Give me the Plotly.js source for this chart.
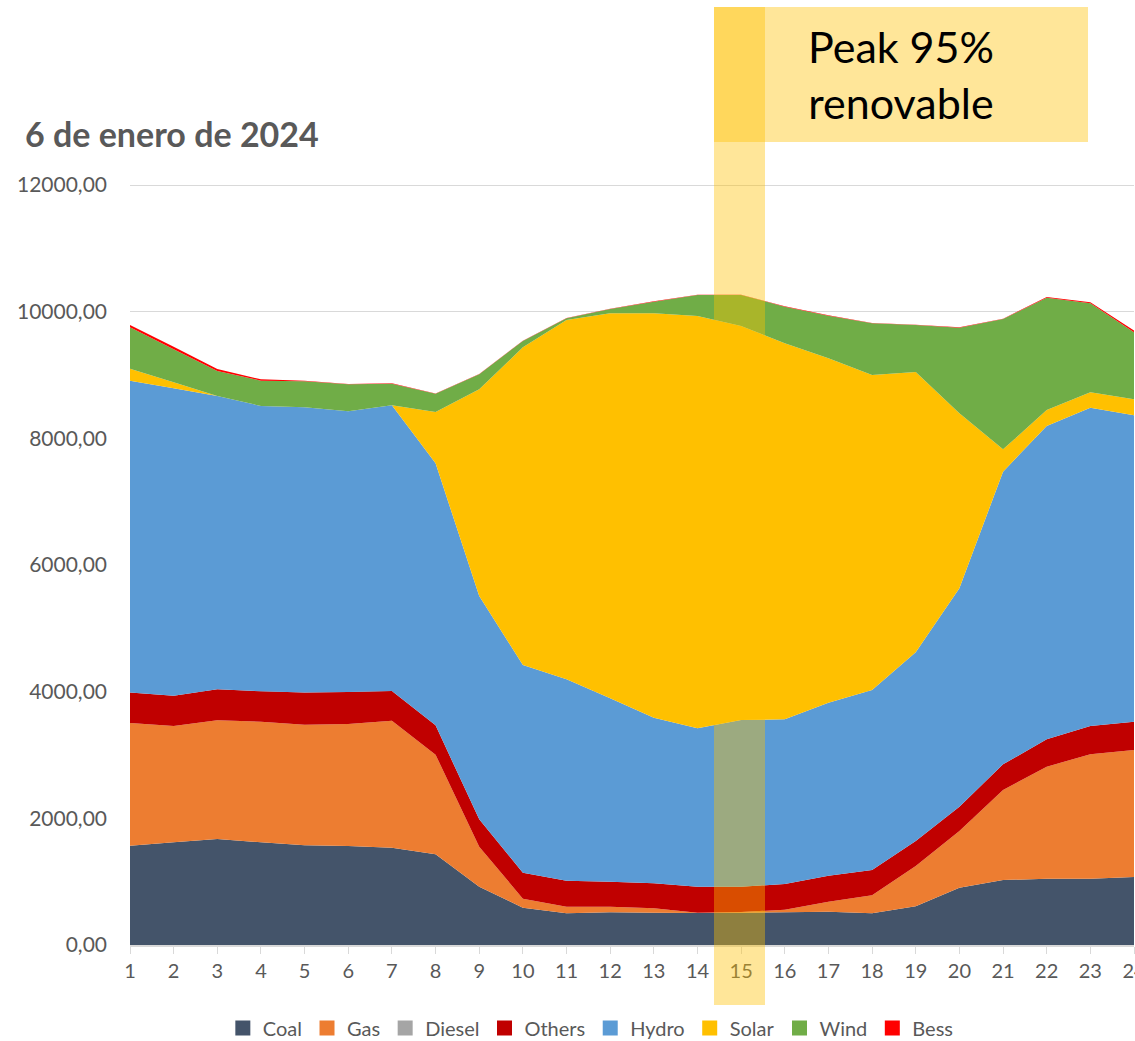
<!DOCTYPE html>
<html>
<head>
<meta charset="utf-8">
<script src="https://cdn.plot.ly/plotly-3.0.1.min.js"></script>
<style>
html,body{margin:0;padding:0;background:#fff;}
#chart{width:1135px;height:1041px;}
</style>
</head>
<body>
<div id="chart"></div>
<script>
const hours = [1,2,3,4,5,6,7,8,9,10,11,12,13,14,15,16,17,18,19,20,21,22,23,24];
const coal   = [1568,1621,1673,1621,1574,1563,1537,1432,921,590,500,516,511,505,511,516,526,500,611,905,1026,1047,1047,1074];
const gas    = [1937,1837,1874,1905,1905,1927,2005,1573,632,142,105,89,68,6,10,42,158,284,636,895,1421,1769,1963,2005];
const diesel = [0,0,0,0,0,0,0,0,0,0,0,0,0,0,0,0,0,0,0,0,0,0,0,0];
const others = [480,479,490,479,506,505,469,463,431,410,411,395,395,410,400,405,411,400,395,384,406,431,448,447];
const hydro  = [4926,4853,4632,4506,4505,4431,4510,4137,3527,3279,3179,2895,2616,2500,2632,2600,2731,2842,2979,3448,4621,4948,5026,4837];
const solar  = [189,94,0,0,0,0,0,811,3263,5016,5674,6079,6384,6511,6221,5937,5437,4974,4426,2763,352,252,242,253];
const wind   = [653,521,394,400,410,427,342,289,237,100,26,68,184,331,489,579,674,816,743,1353,2058,1774,1406,1058];
const bess   = [37,42,32,21,8,6,6,5,5,5,5,5,5,5,5,5,5,5,5,5,5,10,15,30];

const titleText = "6 de enero de 2024";
const peakText = "Peak 95%<br>renovable";

const series = [
  {name:"Coal", y:coal, color:"#44546A"},
  {name:"Gas", y:gas, color:"#ED7D31"},
  {name:"Diesel", y:diesel, color:"#A5A5A5"},
  {name:"Others", y:others, color:"#C00000"},
  {name:"Hydro", y:hydro, color:"#5B9BD5"},
  {name:"Solar", y:solar, color:"#FFC000"},
  {name:"Wind", y:wind, color:"#70AD47"},
  {name:"Bess", y:bess, color:"#FF0000"}
];

const traces = series.map(s => ({
  type:"scatter", x:hours, y:s.y, name:s.name,
  stackgroup:"one", mode:"none",
  fillcolor:s.color, line:{width:0, color:s.color},
  hoverinfo:"skip", showlegend:false
}));
// legend entries with square swatches
series.forEach(s => traces.push({
  type:"scatter", x:[null], y:[null], name:s.name, mode:"markers",
  marker:{symbol:"square", size:15, color:s.color}, showlegend:true, hoverinfo:"skip"
}));

const FONT = "Lato, 'Open Sans', sans-serif";
const layout = {
  width:1135, height:1041,
  paper_bgcolor:"#ffffff", plot_bgcolor:"#ffffff",
  margin:{l:130, r:1, t:184, b:96, autoexpand:false},
  separators:",.",
  font:{family:FONT, color:"#595959", size:20},
  title:{text:"<b>"+titleText+"</b>", xref:"container", yref:"container",
         x:25/1135, xanchor:"left", y:1-135/1041, yanchor:"middle",
         font:{family:FONT, size:34, color:"#595959"}},
  xaxis:{range:[1,24], tickmode:"linear", tick0:1, dtick:1,
         showgrid:false, zeroline:false, showline:true, linecolor:"#D9D9D9", linewidth:2,
         ticks:"outside", ticklen:7, tickcolor:"#D9D9D9", tickwidth:1,
         ticklabeloverflow:"allow",
         tickfont:{family:FONT, size:20, color:"#595959"}, fixedrange:true},
  yaxis:{range:[0,12016], tickmode:"linear", tick0:0, dtick:2000, tickformat:".2f",
         showgrid:true, gridcolor:"#D9D9D9", gridwidth:1, zeroline:false, showline:false,
         ticks:"", ticklabelstandoff:22,
         tickfont:{family:FONT, size:21, color:"#595959"}, fixedrange:true},
  showlegend:true,
  legend:{orientation:"h", x:0.459, xanchor:"center", y:-83/761, yanchor:"middle",
          font:{family:FONT, size:20, color:"#595959"}, traceorder:"normal",
          itemclick:false, itemdoubleclick:false},
  shapes:[
    {type:"rect", xref:"paper", yref:"paper", x0:(714-130)/1004, x1:(765-130)/1004,
     y0:(945-1005)/761, y1:(945-7)/761, fillcolor:"#FFC000", opacity:0.4,
     line:{width:0}, layer:"above"},
    {type:"rect", xref:"paper", yref:"paper", x0:(714-130)/1004, x1:(1088-130)/1004,
     y0:(945-142)/761, y1:(945-7)/761, fillcolor:"#FFC000", opacity:0.4,
     line:{width:0}, layer:"above"}
  ],
  annotations:[
    {text:peakText, xref:"paper", yref:"paper", x:(901-130)/1004, y:(945-74)/761,
     xanchor:"center", yanchor:"middle", showarrow:false, align:"center",
     font:{family:FONT, size:43, color:"#000000"}}
  ]
};

Plotly.newPlot("chart", traces, layout, {displayModeBar:false, staticPlot:true});
</script>
</body>
</html>
